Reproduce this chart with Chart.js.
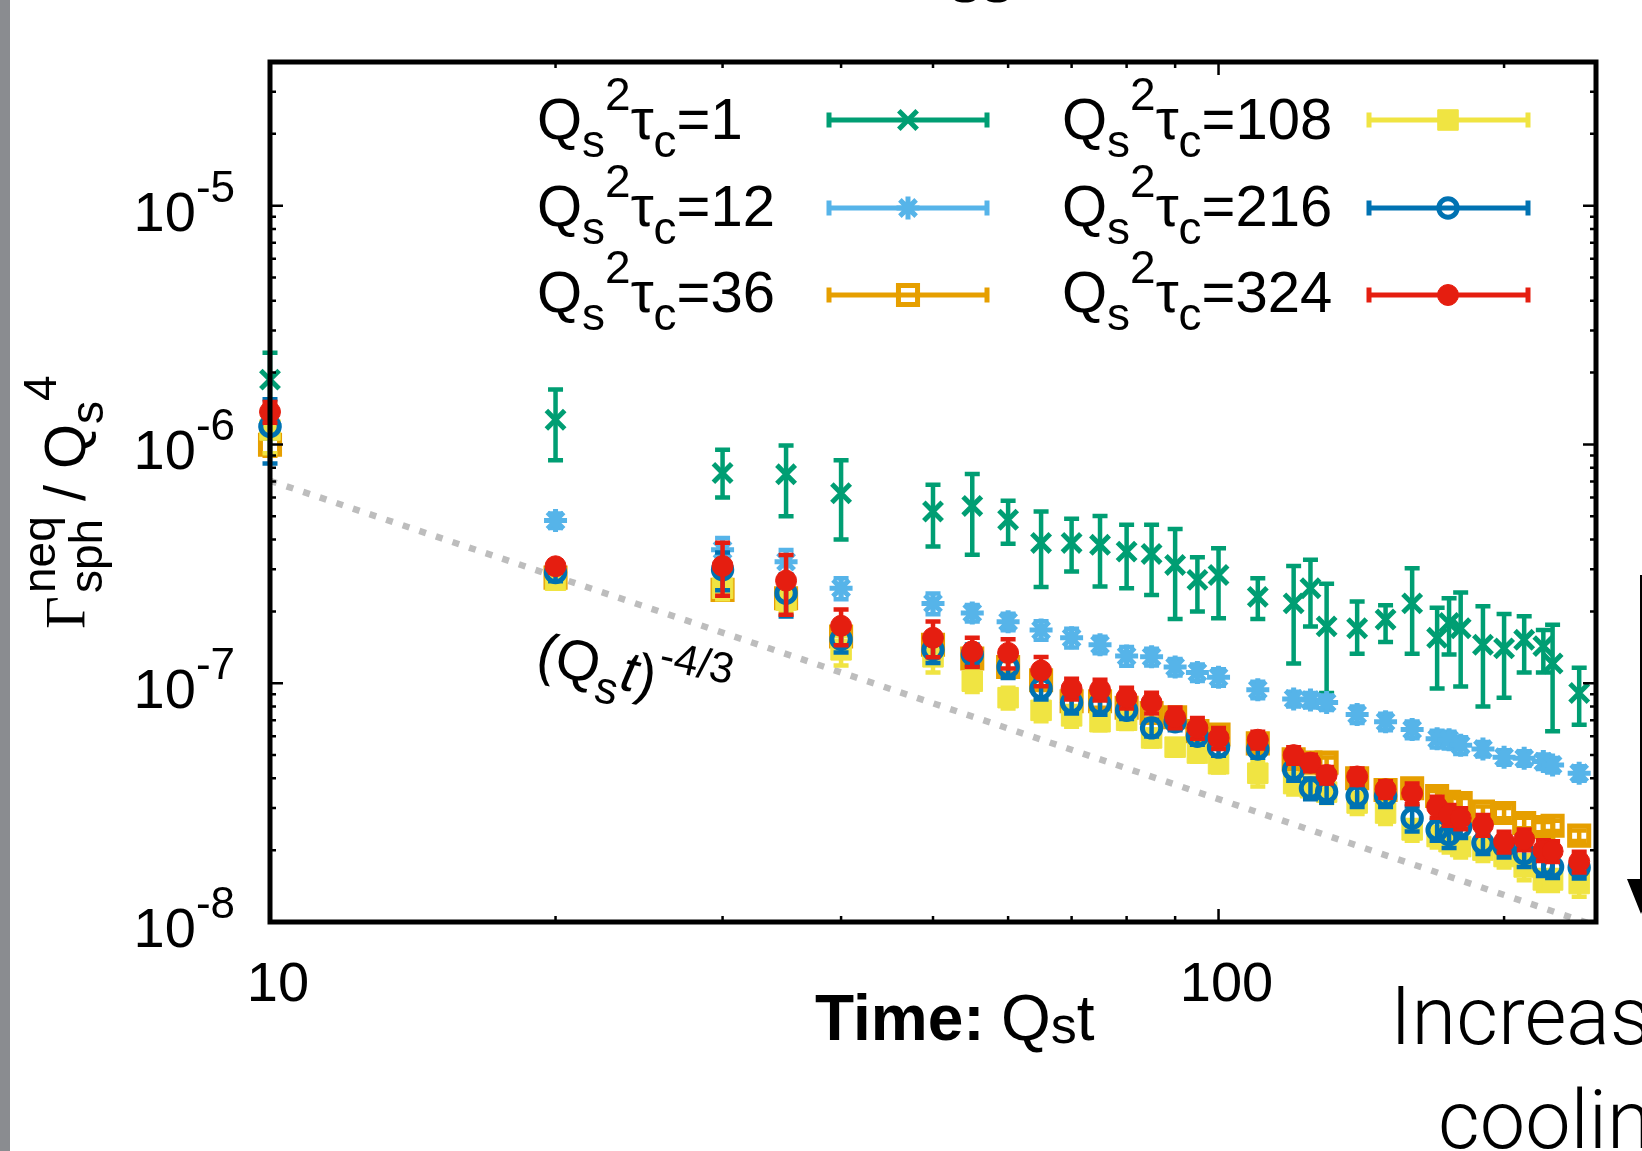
<!DOCTYPE html>
<html>
<head>
<meta charset="utf-8">
<script src="https://cdn.jsdelivr.net/npm/chart.js@4.4.1/dist/chart.umd.min.js"></script>
<style>
  html, body { margin: 0; padding: 0; background: #fff; }
  #wrap { position: relative; width: 1642px; height: 1151px; overflow: hidden; }
  #strip { position: absolute; left: 0; top: 0; width: 10px; height: 1151px; background: #8a8c90; }
</style>
</head>
<body>
<div id="wrap"><canvas id="chart"></canvas><div id="strip"></div></div>
<script>
// time grid, Q_s t
const times = [10, 20, 30, 35, 40, 50, 55, 60, 65, 70, 75, 80, 85, 90, 95, 100,
               110, 120, 125, 130, 140, 150, 160, 170, 175, 180, 190, 200, 210, 220, 225, 240];

// Q_s^2 tau_c = 1 (with explicit error bar ends)
const rate1 = [1.87e-6, 1.27e-6, 7.6e-7, 7.5e-7, 6.25e-7, 5.24e-7, 5.53e-7, 4.84e-7, 3.87e-7, 3.87e-7,
               3.80e-7, 3.56e-7, 3.48e-7, 3.13e-7, 2.71e-7, 2.84e-7, 2.30e-7, 2.16e-7, 2.50e-7, 1.73e-7,
               1.70e-7, 1.85e-7, 2.16e-7, 1.55e-7, 1.79e-7, 1.70e-7, 1.45e-7, 1.40e-7, 1.52e-7, 1.43e-7,
               1.21e-7, 9.1e-8];
const rate1Lo = [1.44e-6, 8.6e-7, 6.0e-7, 5.0e-7, 4.0e-7, 3.74e-7, 3.45e-7, 3.84e-7, 2.53e-7, 2.94e-7,
                 2.54e-7, 2.50e-7, 2.34e-7, 1.86e-7, 2.00e-7, 1.87e-7, 1.86e-7, 1.21e-7, 1.73e-7, 9.1e-8,
                 1.33e-7, 1.49e-7, 1.33e-7, 9.5e-8, 1.32e-7, 9.7e-8, 8.0e-8, 8.7e-8, 1.11e-7, 1.11e-7,
                 6.3e-8, 6.7e-8];
const rate1Hi = [2.42e-6, 1.70e-6, 9.5e-7, 9.9e-7, 8.6e-7, 6.78e-7, 7.52e-7, 5.81e-7, 5.24e-7, 4.89e-7,
                 5.02e-7, 4.61e-7, 4.61e-7, 4.43e-7, 3.37e-7, 3.68e-7, 2.75e-7, 3.10e-7, 3.29e-7, 2.61e-7,
                 2.20e-7, 2.12e-7, 3.03e-7, 2.07e-7, 2.27e-7, 2.40e-7, 2.10e-7, 1.95e-7, 1.91e-7, 1.67e-7,
                 1.76e-7, 1.16e-7];

// the other runs: value and relative error
const rate12 = [1.2e-6, 4.8e-7, 3.62e-7, 3.23e-7, 2.50e-7, 2.16e-7, 1.97e-7, 1.81e-7, 1.67e-7, 1.55e-7,
                1.45e-7, 1.30e-7, 1.29e-7, 1.17e-7, 1.11e-7, 1.06e-7, 9.4e-8, 8.6e-8, 8.5e-8, 8.3e-8,
                7.4e-8, 6.9e-8, 6.4e-8, 5.85e-8, 5.8e-8, 5.5e-8, 5.3e-8, 4.9e-8, 4.85e-8, 4.7e-8,
                4.55e-8, 4.2e-8];
const err12 = [0.12, 0.07, 0.12, 0.12, 0.1, 0.1, 0.08, 0.08, 0.09, 0.09, 0.08, 0.09, 0.08, 0.08, 0.08, 0.08,
               0.08, 0.07, 0.07, 0.07, 0.08, 0.08, 0.08, 0.08, 0.08, 0.08, 0.07, 0.07, 0.07, 0.07, 0.07, 0.07];

const rate36 = [9.97e-7, 2.77e-7, 2.46e-7, 2.27e-7, 1.57e-7, 1.45e-7, 1.27e-7, 1.17e-7, 1.03e-7, 8.4e-8,
                8.4e-8, 7.9e-8, 7.5e-8, 7.2e-8, 6.3e-8, 6.1e-8, 5.6e-8, 4.8e-8, 4.65e-8, 4.65e-8,
                4.0e-8, 3.57e-8, 3.63e-8, 3.37e-8, 3.19e-8, 3.15e-8, 2.90e-8, 2.86e-8, 2.60e-8, 2.50e-8,
                2.53e-8, 2.30e-8];
const err36 = [0.1, 0.05, 0.08, 0.08, 0.06, 0.06, 0.06, 0.06, 0.06, 0.06, 0.06, 0.05, 0.05, 0.05, 0.05, 0.05,
               0.05, 0.05, 0.05, 0.05, 0.05, 0.05, 0.05, 0.05, 0.05, 0.05, 0.05, 0.05, 0.05, 0.05, 0.05, 0.05];

const rate108 = [1.15e-6, 2.7e-7, 2.5e-7, 2.23e-7, 1.38e-7, 1.29e-7, 1.02e-7, 8.7e-8, 7.7e-8, 7.3e-8,
                 6.9e-8, 7.0e-8, 5.9e-8, 5.4e-8, 5.1e-8, 4.6e-8, 4.2e-8, 3.8e-8, 3.65e-8, 3.5e-8,
                 3.15e-8, 2.86e-8, 2.43e-8, 2.28e-8, 2.17e-8, 2.07e-8, 2.0e-8, 1.88e-8, 1.70e-8, 1.50e-8,
                 1.50e-8, 1.45e-8];
const err108 = [0.2, 0.06, 0.1, 0.12, 0.14, 0.14, 0.1, 0.1, 0.1, 0.1, 0.08, 0.08, 0.08, 0.08, 0.08, 0.08,
                0.12, 0.1, 0.1, 0.1, 0.1, 0.1, 0.1, 0.1, 0.1, 0.1, 0.1, 0.1, 0.12, 0.1, 0.1, 0.12];

const rate216 = [1.19e-6, 2.91e-7, 2.99e-7, 2.38e-7, 1.53e-7, 1.38e-7, 1.32e-7, 1.17e-7, 9.5e-8, 8.3e-8,
                 8.2e-8, 7.7e-8, 6.5e-8, 6.9e-8, 6.0e-8, 5.4e-8, 5.3e-8, 4.34e-8, 3.63e-8, 3.51e-8,
                 3.37e-8, 3.37e-8, 2.72e-8, 2.43e-8, 2.32e-8, 2.50e-8, 2.14e-8, 2.07e-8, 1.93e-8, 1.73e-8,
                 1.70e-8, 1.69e-8];
const err216 = [0.3, 0.08, 0.18, 0.2, 0.12, 0.12, 0.1, 0.1, 0.1, 0.1, 0.1, 0.08, 0.08, 0.08, 0.08, 0.08,
                0.08, 0.1, 0.1, 0.1, 0.1, 0.1, 0.12, 0.1, 0.12, 0.1, 0.1, 0.1, 0.12, 0.1, 0.1, 0.1];

const rate324 = [1.37e-6, 3.09e-7, 3.10e-7, 2.69e-7, 1.74e-7, 1.55e-7, 1.36e-7, 1.34e-7, 1.13e-7, 9.5e-8,
                 9.4e-8, 8.7e-8, 8.3e-8, 7.2e-8, 6.5e-8, 5.9e-8, 5.8e-8, 5.0e-8, 4.65e-8, 4.13e-8,
                 4.07e-8, 3.60e-8, 3.46e-8, 3.04e-8, 2.81e-8, 2.72e-8, 2.55e-8, 2.17e-8, 2.22e-8, 2.00e-8,
                 1.98e-8, 1.79e-8];
const err324 = [0.1, 0.06, 0.25, 0.28, 0.17, 0.17, 0.14, 0.14, 0.14, 0.1, 0.1, 0.1, 0.1, 0.1, 0.1, 0.1,
                0.08, 0.08, 0.08, 0.08, 0.08, 0.08, 0.1, 0.1, 0.1, 0.1, 0.1, 0.1, 0.1, 0.1, 0.1, 0.1];

const tauLabels = ["1", "12", "36", "108", "216", "324"];

// (Q_s t)^(-4/3) guide, end points
const guideT = [10, 250];
const guideRate = [7.05e-7, 9.64e-9];

// axis ticks
const xMajor = [10, 100];
const xMinor = [20, 30, 40, 50, 60, 70, 80, 90, 200];
const yMajor = [1e-8, 1e-7, 1e-6, 1e-5];
const yExp = ["-8", "-7", "-6", "-5"];
const yMax = 4e-5;
const yMinor = [];
yMajor.forEach(d => { for (let m = 2; m <= 9; m++) if (m * d <= yMax * 1.0001) yMinor.push(m * d); });

const GREEN = "#009e73", SKY = "#56b4e9", ORANGE = "#e69f00",
      YELLOW = "#f0e442", BLUE = "#0072b2", RED = "#e51e10";

const MAIN = '58px "Liberation Sans", Arial, sans-serif';
const SMALL = '46px "Liberation Sans", Arial, sans-serif';
const TICK = '56px "Liberation Sans", Arial, sans-serif';
const TICKSUP = '44px "Liberation Sans", Arial, sans-serif';

function pts(ys) {
    return ys.map((y, i) => ({ x: times[i], y: y }));
}
function lower(ys, rel) { return ys.map((y, i) => y * (1 - rel[i])); }
function upper(ys, rel) { return ys.map((y, i) => y * (1 + rel[i])); }

function run(label, ys, lo, hi, color, style, radius, filled, order) {
    return {
        label: label,
        data: pts(ys),
        errLo: lo,
        errHi: hi,
        showLine: false,
        pointStyle: style,
        pointRadius: radius,
        pointHoverRadius: radius,
        pointBorderWidth: filled ? 1 : 5,
        borderColor: color,
        backgroundColor: filled ? color : "rgba(0,0,0,0)",
        clip: false,
        order: order
    };
}

const datasets = [
    run(tauLabels[0], rate1, rate1Lo, rate1Hi, GREEN, "crossRot", 13, false, 6),
    run(tauLabels[1], rate12, lower(rate12, err12), upper(rate12, err12), SKY, "star", 11.5, false, 5),
    run(tauLabels[2], rate36, lower(rate36, err36), upper(rate36, err36), ORANGE, "rect", 13.5, false, 4),
    run(tauLabels[3], rate108, lower(rate108, err108), upper(rate108, err108), YELLOW, "rect", 14.5, true, 3),
    run(tauLabels[4], rate216, lower(rate216, err216), upper(rate216, err216), BLUE, "circle", 9.2, false, 2),
    run(tauLabels[5], rate324, lower(rate324, err324), upper(rate324, err324), RED, "circle", 10.5, true, 1),
    {
        label: "guide",
        data: guideT.map((t, i) => ({ x: t, y: guideRate[i] })),
        showLine: true,
        pointRadius: 0,
        borderColor: "#bdbdbd",
        borderWidth: 6.5,
        borderDash: [7, 10.5],
        borderCapStyle: "butt",
        order: 10
    }
];

function rich(ctx, x, y, parts) {
    let cx = x;
    parts.forEach(([t, font, dy]) => {
        ctx.font = font;
        ctx.fillText(t, cx, y + dy);
        cx += ctx.measureText(t).width;
    });
    return cx;
}

const errorBars = {
    id: "errorBars",
    beforeDatasetDraw(chart, args) {
        const ds = chart.data.datasets[args.index];
        if (!ds.errLo) return;
        const ctx = chart.ctx, xs = chart.scales.x, ys = chart.scales.y;
        ctx.save();
        ctx.strokeStyle = ds.borderColor;
        ctx.lineWidth = 4.5;
        ctx.beginPath();
        ds.data.forEach((p, i) => {
            const px = xs.getPixelForValue(p.x);
            const top = ys.getPixelForValue(ds.errHi[i]);
            const bot = ys.getPixelForValue(ds.errLo[i]);
            ctx.moveTo(px, top); ctx.lineTo(px, bot);
            ctx.moveTo(px - 7.5, top); ctx.lineTo(px + 7.5, top);
            ctx.moveTo(px - 7.5, bot); ctx.lineTo(px + 7.5, bot);
        });
        ctx.stroke();
        ctx.restore();
    }
};

const frame = {
    id: "frame",
    afterDatasetsDraw(chart) {
        const { ctx, chartArea: a } = chart;
        const xs = chart.scales.x, ys = chart.scales.y;
        ctx.save();
        ctx.strokeStyle = "#000";
        ctx.lineWidth = 2.5;
        ctx.beginPath();
        const yTick = (v, len) => {
            const py = ys.getPixelForValue(v);
            ctx.moveTo(a.left, py); ctx.lineTo(a.left + len, py);
            ctx.moveTo(a.right, py); ctx.lineTo(a.right - len, py);
        };
        const xTick = (v, len) => {
            const px = xs.getPixelForValue(v);
            ctx.moveTo(px, a.bottom); ctx.lineTo(px, a.bottom - len);
            ctx.moveTo(px, a.top); ctx.lineTo(px, a.top + len);
        };
        yMajor.forEach(v => yTick(v, 13));
        yMinor.forEach(v => yTick(v, 6));
        xMajor.forEach(v => xTick(v, 13));
        xMinor.forEach(v => xTick(v, 6));
        ctx.stroke();
        ctx.lineWidth = 5;
        ctx.strokeRect(a.left, a.top, a.right - a.left, a.bottom - a.top);

        ctx.fillStyle = "#000";
        ctx.textBaseline = "alphabetic";
        ctx.textAlign = "left";
        yMajor.forEach((v, i) => {
            const py = ys.getPixelForValue(v);
            ctx.font = TICK;
            const w1 = ctx.measureText("10").width;
            ctx.font = TICKSUP;
            const w2 = ctx.measureText(yExp[i]).width;
            const x0 = a.left - 35 - w1 - w2;
            rich(ctx, x0, py + 25, [["10", TICK, 0], [yExp[i], TICKSUP, -29]]);
        });
        ctx.textAlign = "center";
        ctx.font = TICK;
        xMajor.forEach(v => {
            ctx.fillText(String(v), xs.getPixelForValue(v) + 8, a.bottom + 79);
        });
        ctx.restore();
    },
    afterDraw(chart) {
        const ctx = chart.ctx;
        ctx.save();
        ctx.fillStyle = "#000";
        ctx.textAlign = "left";
        ctx.textBaseline = "alphabetic";

        // legend
        const cols = [
            { text: 537, x1: 829, x2: 987, mark: 908 },
            { text: 1062, x1: 1369, x2: 1528, mark: 1448 }
        ];
        const lineY = [120, 208, 295];
        const baseY = [139, 226, 312];
        chart.data.datasets.slice(0, 6).forEach((ds, i) => {
            const c = cols[Math.floor(i / 3)], r = i % 3;
            ctx.fillStyle = "#000";
            rich(ctx, c.text, baseY[r], [
                ["Q", MAIN, 0], ["s", SMALL, 18], ["2", SMALL, -29],
                ["\u03c4", MAIN, 0], ["c", SMALL, 18], ["=" + ds.label, MAIN, 0]
            ]);
            const y = lineY[r];
            ctx.strokeStyle = ds.borderColor;
            ctx.lineWidth = 5;
            ctx.beginPath();
            ctx.moveTo(c.x1, y); ctx.lineTo(c.x2, y);
            ctx.moveTo(c.x1, y - 7.5); ctx.lineTo(c.x1, y + 7.5);
            ctx.moveTo(c.x2, y - 7.5); ctx.lineTo(c.x2, y + 7.5);
            ctx.stroke();
            ctx.fillStyle = ds.backgroundColor;
            ctx.lineWidth = ds.pointBorderWidth;
            Chart.helpers.drawPoint(ctx, {
                pointStyle: ds.pointStyle, radius: ds.pointRadius,
                borderWidth: ds.pointBorderWidth, rotation: 0
            }, c.mark, y);
        });

        // y axis title
        ctx.fillStyle = "#000";
        ctx.save();
        ctx.translate(85, 629);
        ctx.rotate(-Math.PI / 2);
        ctx.font = '57px "Liberation Serif", serif';
        ctx.fillText("\u0393", 0, 0);
        ctx.font = SMALL;
        ctx.fillText("neq", 36, -30);
        ctx.fillText("sph", 36, 17);
        rich(ctx, 128, 0, [["/", MAIN, 0]]);
        rich(ctx, 160, 0, [["Q", MAIN, 0], ["s", SMALL, 18], ["4", SMALL, -29]]);
        ctx.restore();

        // x axis title
        rich(ctx, 815, 1040, [["Time:", 'bold 64px "Liberation Sans", Arial, sans-serif', 0]]);
        rich(ctx, 1001, 1040, [["Q", '64px "Liberation Sans", Arial, sans-serif', 0],
                                ["s", '52px "Liberation Sans", Arial, sans-serif', 3],
                                ["t", '64px "Liberation Sans", Arial, sans-serif', 0]]);

        // power-law label
        ctx.save();
        ctx.translate(534, 671);
        ctx.rotate(12 * Math.PI / 180);
        rich(ctx, 0, 0, [["(Q", '57px "Liberation Sans", Arial, sans-serif', 0],
                         ["s", '45px "Liberation Sans", Arial, sans-serif', 17],
                         ["t", 'italic 57px "Liberation Sans", Arial, sans-serif', 0],
                         [")", '57px "Liberation Sans", Arial, sans-serif', 0],
                         ["-4/3", '43px "Liberation Sans", Arial, sans-serif', -28]]);
        ctx.restore();

        // side annotation
        ctx.font = '300 81px Roboto, Inter, "Liberation Sans", sans-serif';
        ctx.fillText("Increasing", 1390, 1044);
        ctx.fillText("cooling", 1438, 1148);
        ctx.font = '64px "Liberation Sans", Arial, sans-serif';
        ctx.fillText("ss", 949, 2);

        // arrow
        ctx.strokeStyle = "#000";
        ctx.lineWidth = 2;
        ctx.beginPath();
        ctx.moveTo(1641, 575); ctx.lineTo(1641, 885);
        ctx.stroke();
        ctx.beginPath();
        ctx.moveTo(1627, 879); ctx.lineTo(1655, 879); ctx.lineTo(1641, 914);
        ctx.closePath();
        ctx.fill();
        ctx.restore();
    }
};

new Chart(document.getElementById("chart"), {
    type: "scatter",
    data: { datasets: datasets },
    options: {
        responsive: true,
        maintainAspectRatio: false,
        animation: false,
        events: [],
        layout: { padding: { left: 270, right: 46, top: 62, bottom: 229 } },
        scales: {
            x: { type: "logarithmic", min: 10, max: 250, display: false },
            y: { type: "logarithmic", min: 1e-8, max: yMax, display: false }
        },
        plugins: { legend: { display: false }, tooltip: { enabled: false } }
    },
    plugins: [errorBars, frame]
});
</script>
</body>
</html>
